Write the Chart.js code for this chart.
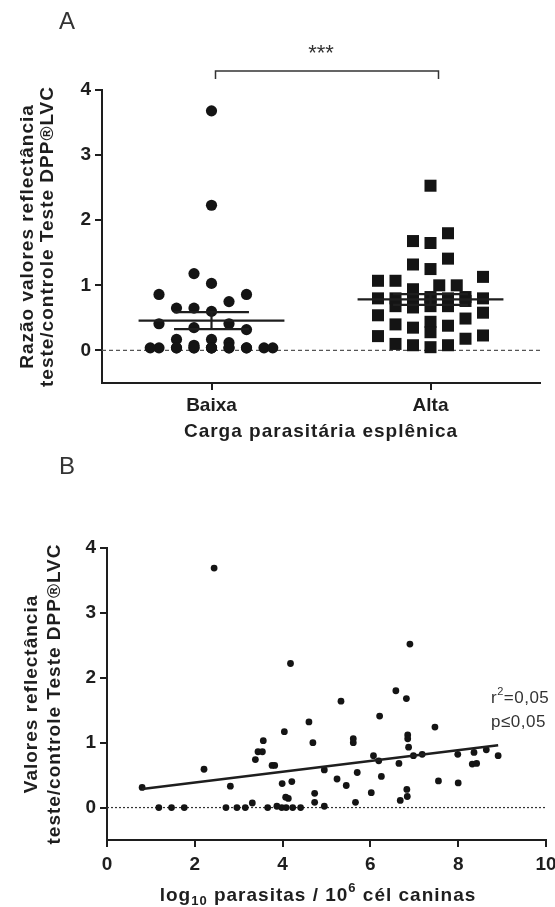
<!DOCTYPE html>
<html>
<head>
<meta charset="utf-8">
<script src="https://cdn.jsdelivr.net/npm/chart.js@4.4.1/dist/chart.umd.min.js"></script>
<style>
  html, body { margin: 0; padding: 0; background: #fff; }
  #wrapA { position: absolute; left: 0; top: 0; width: 555px; height: 445px; }
  #wrapB { position: absolute; left: 0; top: 445px; width: 555px; height: 462px; }
</style>
</head>
<body>
<div id="wrapA"><canvas id="chartA"></canvas></div>
<div id="wrapB"><canvas id="chartB"></canvas></div>
<script>
// --- panel A data ---
const groupLabels = ['Baixa', 'Alta'];
const baixaValues = [3.68, 2.23, 1.18, 1.03, 0.86, 0.86, 0.75, 0.65, 0.65, 0.60, 0.41, 0.41,
    0.35, 0.32, 0.17, 0.17, 0.12, 0.08,
    0.04, 0.04, 0.04, 0.04, 0.04, 0.04, 0.04, 0.04, 0.04, 0.04, 0.04, 0.04, 0.04, 0.04, 0.04];
const altaValues = [2.53, 1.80, 1.68, 1.65, 1.41, 1.32, 1.25, 1.13, 1.07, 1.07, 1.00, 1.00, 0.94,
    0.82, 0.82, 0.80, 0.80, 0.80, 0.80, 0.78, 0.78, 0.76, 0.68, 0.68, 0.68, 0.66, 0.58, 0.54,
    0.49, 0.44, 0.40, 0.38, 0.35, 0.28, 0.23, 0.22, 0.18, 0.10, 0.08, 0.08, 0.05];
const yTicksA = [0, 1, 2, 3, 4];
const signifLabel = '***';
const titleA = ['Razão valores reflectância', 'teste/controle Teste DPP®LVC'];
const xTitleA = 'Carga parasitária esplênica';

// --- panel B data ---
const parasiteLog = [0.80, 1.18, 1.47, 1.76, 2.21, 2.44, 2.71, 2.81, 2.96, 3.15, 3.31, 3.38, 3.44,
    3.54, 3.56, 3.66, 3.76, 3.82, 3.87, 3.98, 3.99, 4.04, 4.07, 4.08, 4.13, 4.18, 4.21, 4.23,
    4.41, 4.60, 4.69, 4.73, 4.73, 4.95, 4.95, 5.24, 5.33, 5.45, 5.61, 5.61, 5.66, 5.70, 6.02,
    6.07, 6.19, 6.21, 6.25, 6.58, 6.65, 6.68, 6.82, 6.83, 6.84, 6.85, 6.85, 6.87, 6.90, 6.98,
    7.18, 7.47, 7.55, 7.99, 8.00, 8.32, 8.36, 8.42, 8.64, 8.91];
const reflectRatio = [0.31, 0.00, 0.00, 0.00, 0.59, 3.69, 0.00, 0.33, 0.00, 0.00, 0.07, 0.74, 0.86,
    0.86, 1.03, 0.00, 0.65, 0.65, 0.02, 0.00, 0.37, 1.17, 0.16, 0.00, 0.14, 2.22, 0.40, 0.00,
    0.00, 1.32, 1.00, 0.22, 0.08, 0.58, 0.02, 0.44, 1.64, 0.34, 1.06, 1.00, 0.08, 0.54, 0.23,
    0.80, 0.72, 1.41, 0.48, 1.80, 0.68, 0.11, 1.68, 0.28, 0.17, 1.12, 1.06, 0.93, 2.52, 0.80,
    0.82, 1.24, 0.41, 0.82, 0.38, 0.67, 0.85, 0.68, 0.89, 0.80];
const xTicksB = [0, 2, 4, 6, 8, 10];
const yTicksB = [0, 1, 2, 3, 4];
const fitIntercept = 0.22;
const fitSlope = 0.083;
const statsText = ['0,05', '0,05'];
const titleB = ['Valores reflectância', 'teste/controle Teste DPP®LVC'];

// --- shared look ---
const FONT = '"Liberation Sans", Arial, sans-serif';
const INK = '#1e1e1e';
const MEAN_HALF = 0.333;
const SEM_HALF = 0.171;

const mean = arr => arr.reduce((a, b) => a + b, 0) / arr.length;
const sem = arr => {
    const m = mean(arr);
    const v = arr.reduce((a, b) => a + (b - m) * (b - m), 0) / (arr.length - 1);
    return Math.sqrt(v / arr.length);
};

function meanSemPath(values, center) {
    const m = mean(values), s = sem(values);
    return [
        { x: center - MEAN_HALF, y: m }, { x: center + MEAN_HALF, y: m }, { x: center, y: null },
        { x: center - SEM_HALF, y: m + s }, { x: center + SEM_HALF, y: m + s }, { x: center, y: null },
        { x: center - SEM_HALF, y: m - s }, { x: center + SEM_HALF, y: m - s }, { x: center, y: null },
        { x: center, y: m - s }, { x: center, y: m + s }
    ];
}

// dot-plot layout: nearest free column, else squeeze in where it overlaps least
function swarmOffsets(values, pxPerUnit, col, dist, cols) {
    const order = values.map((v, i) => i).sort((a, b) => values[a] - values[b]);
    const placed = [];
    const offsets = new Array(values.length).fill(0);
    const overlapAt = (px, py) => placed.reduce((s, p) => {
        const d = Math.hypot(p.x - px, p.y - py);
        return d < dist - 0.01 ? s + (dist - d) : s;
    }, 0);
    order.forEach(i => {
        const py = values[i] * pxPerUnit;
        let best = null;
        for (let k = 0; k <= cols && best === null; k++) {
            for (const c of (k === 0 ? [0] : [-k, k])) {
                if (overlapAt(c * col, py) === 0) { best = c * col; break; }
            }
        }
        if (best === null) {
            let bestCost = Infinity;
            for (let k = 0; k <= cols * 2 + 1; k++) {
                for (const c of (k === 0 ? [0] : [-k, k])) {
                    const px = c * col / 2;
                    const cost = overlapAt(px, py) + Math.abs(px) * 0.4;
                    if (cost < bestCost) { bestCost = cost; best = px; }
                }
            }
        }
        placed.push({ x: best, y: py });
        offsets[i] = best;
    });
    return offsets;
}

function drawRich(ctx, parts, x, y, align) {
    let total = 0;
    parts.forEach(p => {
        ctx.font = `${p.bold ? 'bold ' : ''}${p.size}px ${FONT}`;
        p.w = ctx.measureText(p.text).width;
        total += p.w;
    });
    let cx = align === 'center' ? x - total / 2 : x;
    ctx.textAlign = 'left';
    parts.forEach(p => {
        ctx.font = `${p.bold ? 'bold ' : ''}${p.size}px ${FONT}`;
        ctx.fillText(p.text, cx, y + (p.dy || 0));
        cx += p.w;
    });
}

function drawVTitle(ctx, lines, xs, cy) {
    ctx.font = `bold 19px ${FONT}`;
    ctx.textAlign = 'center';
    ctx.textBaseline = 'middle';
    lines.forEach((t, i) => {
        ctx.save();
        ctx.translate(xs[i], cy);
        ctx.rotate(-Math.PI / 2);
        ctx.fillText(t, 0, 0);
        ctx.restore();
    });
}

function axisCommon(tickList) {
    return {
        afterBuildTicks: s => { s.ticks = tickList.map(v => ({ value: v })); },
        grid: { drawOnChartArea: false, drawTicks: true, tickLength: 7, color: INK, lineWidth: 2 },
        border: { display: true, color: INK, width: 2 },
        ticks: { color: INK, font: { family: FONT, size: 19, weight: 'bold' }, autoSkip: false, maxRotation: 0 }
    };
}

// --- panel A extras: label, significance bracket, titles ---
const panelADecor = {
    id: 'panelADecor',
    afterDraw(chart) {
        const { ctx, chartArea, scales } = chart;
        ctx.save();
        ctx.fillStyle = '#333';
        ctx.font = `24px ${FONT}`;
        ctx.textAlign = 'center';
        ctx.textBaseline = 'middle';
        ctx.fillText('A', 67, 22);

        const x0 = scales.x.getPixelForValue(0) + 4;
        const x1 = scales.x.getPixelForValue(1) + 8;
        ctx.strokeStyle = '#333';
        ctx.lineWidth = 1.5;
        ctx.beginPath();
        ctx.moveTo(x0, 79); ctx.lineTo(x0, 71); ctx.lineTo(x1, 71); ctx.lineTo(x1, 79);
        ctx.stroke();
        ctx.font = `22px ${FONT}`;
        ctx.fillText(signifLabel, (x0 + x1) / 2 - 6, 54);

        ctx.fillStyle = INK;
        ctx.letterSpacing = '1px';
        drawVTitle(ctx, titleA, [28, 48], (chartArea.top + chartArea.bottom) / 2);
        ctx.font = `bold 19px ${FONT}`;
        ctx.textAlign = 'center';
        ctx.fillText(xTitleA, (chartArea.left + chartArea.right) / 2, 432);
        ctx.restore();
    }
};

// --- panel B extras ---
const panelBDecor = {
    id: 'panelBDecor',
    afterDraw(chart) {
        const { ctx, chartArea } = chart;
        ctx.save();
        ctx.fillStyle = '#333';
        ctx.font = `24px ${FONT}`;
        ctx.textAlign = 'center';
        ctx.textBaseline = 'middle';
        ctx.fillText('B', 67, 22);

        ctx.letterSpacing = '0.5px';
        drawRich(ctx, [
            { text: 'r', size: 17 }, { text: '2', size: 11, dy: -6 }, { text: '=' + statsText[0], size: 17 }
        ], 491, 253, 'left');
        drawRich(ctx, [{ text: 'p≤' + statsText[1], size: 17 }], 491, 277, 'left');

        ctx.fillStyle = INK;
        ctx.letterSpacing = '1px';
        drawVTitle(ctx, titleB, [32, 55], (chartArea.top + chartArea.bottom) / 2);
        drawRich(ctx, [
            { text: 'log', size: 19, bold: true },
            { text: '10', size: 13, bold: true, dy: 5 },
            { text: ' parasitas / 10', size: 19, bold: true },
            { text: '6', size: 13, bold: true, dy: -8 },
            { text: ' cél caninas', size: 19, bold: true }
        ], 318, 451, 'center');
        ctx.restore();
    }
};

// --- chart A ---
const axAx = axisCommon([0, 1]);
axAx.ticks.callback = v => groupLabels[v];
axAx.ticks.padding = 4;
axAx.afterFit = s => { s.height = 62; s.paddingLeft = 0; s.paddingRight = 0; };
const ayA = axisCommon(yTicksA);
ayA.ticks.padding = 4;
ayA.afterFit = s => { s.width = 102; s.paddingTop = 0; s.paddingBottom = 0; };

const chartA = new Chart(document.getElementById('chartA'), {
    type: 'scatter',
    data: {
        datasets: [
            {
                data: meanSemPath(baixaValues, 0).concat([{ x: 0.5, y: null }], meanSemPath(altaValues, 1)),
                showLine: true, borderColor: INK, borderWidth: 2.2, pointRadius: 0, order: 0
            },
            {
                data: baixaValues.map(v => ({ x: 0, y: v })),
                pointStyle: 'circle', pointRadius: 5.6, backgroundColor: '#141414', borderWidth: 0, order: 1
            },
            {
                data: altaValues.map(v => ({ x: 1, y: v })),
                pointStyle: 'rect', pointRadius: 8.5, backgroundColor: '#141414', borderWidth: 0, order: 1
            },
            {
                data: [{ x: -0.5, y: 0 }, { x: 1.5, y: 0 }],
                showLine: true, borderColor: '#555', borderWidth: 1.3, borderDash: [4, 3], pointRadius: 0, order: 2
            }
        ]
    },
    options: {
        responsive: true,
        maintainAspectRatio: false,
        animation: false,
        events: [],
        layout: { padding: { top: 90, right: 15, left: 0, bottom: 0 } },
        plugins: { legend: { display: false }, tooltip: { enabled: false } },
        scales: {
            x: Object.assign({ type: 'linear', min: -0.5, max: 1.5 }, axAx),
            y: Object.assign({ type: 'linear', min: -0.5, max: 4 }, ayA)
        }
    },
    plugins: [panelADecor]
});

// spread the dots sideways once the scales are known
(function applySwarm(chart) {
    const xs = chart.scales.x, ys = chart.scales.y;
    const pxX = xs.getPixelForValue(1) - xs.getPixelForValue(0);
    const pxY = ys.getPixelForValue(0) - ys.getPixelForValue(1);
    [baixaValues, altaValues].forEach((vals, g) => {
        const offs = swarmOffsets(vals, pxY, 17.5, 17.5, 3);
        chart.data.datasets[g + 1].data = vals.map((v, i) => ({ x: g + offs[i] / pxX, y: v }));
    });
    chart.update('none');
})(chartA);

// --- chart B ---
const xMin = Math.min(...parasiteLog), xMax = Math.max(...parasiteLog);
const axB = axisCommon(xTicksB);
axB.ticks.padding = 6;
axB.afterFit = s => { s.height = 67; s.paddingLeft = 0; s.paddingRight = 0; };
const ayB = axisCommon(yTicksB);
ayB.ticks.padding = 4;
ayB.afterFit = s => { s.width = 107; s.paddingTop = 0; s.paddingBottom = 0; };

new Chart(document.getElementById('chartB'), {
    type: 'scatter',
    data: {
        datasets: [
            {
                data: [{ x: xMin, y: fitIntercept + fitSlope * xMin }, { x: xMax, y: fitIntercept + fitSlope * xMax }],
                showLine: true, borderColor: INK, borderWidth: 2.5, pointRadius: 0, order: 0
            },
            {
                data: parasiteLog.map((x, i) => ({ x, y: reflectRatio[i] })),
                pointRadius: 3.4, backgroundColor: '#141414', borderWidth: 0, order: 1
            },
            {
                data: [{ x: 0, y: 0 }, { x: 10, y: 0 }],
                showLine: true, borderColor: '#333', borderWidth: 1.2, borderDash: [2, 2], pointRadius: 0, order: 2
            }
        ]
    },
    options: {
        responsive: true,
        maintainAspectRatio: false,
        animation: false,
        events: [],
        layout: { padding: { top: 103, right: 9, left: 0, bottom: 0 } },
        plugins: { legend: { display: false }, tooltip: { enabled: false } },
        scales: {
            x: Object.assign({ type: 'linear', min: 0, max: 10 }, axB),
            y: Object.assign({ type: 'linear', min: -0.5, max: 4 }, ayB)
        }
    },
    plugins: [panelBDecor]
});
</script>
</body>
</html>
